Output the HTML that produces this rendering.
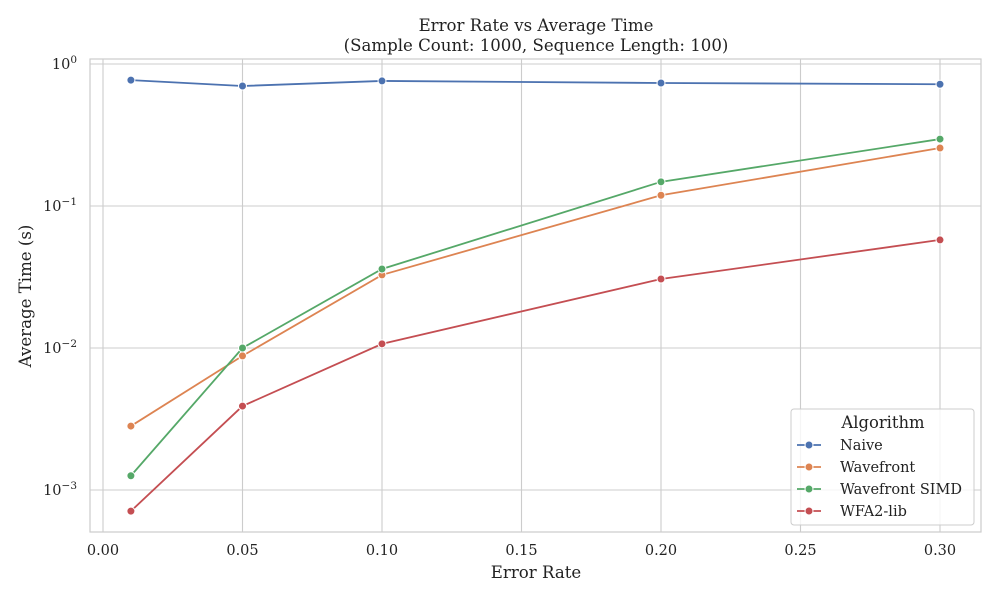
<!DOCTYPE html>
<html><head><meta charset="utf-8"><style>
body{margin:0;background:#fff;}
svg{font-family:"DejaVu Serif","Liberation Serif",serif;}
</style></head><body>
<svg id="chart" width="1000" height="600" xmlns="http://www.w3.org/2000/svg">
<rect width="1000" height="600" fill="#fff"/>
<g id="grid"></g>
<rect x="90" y="59" width="891" height="473" fill="none" stroke="#ccc" stroke-width="1.2"/>
<g id="marks"></g>
<g id="axes"></g>
<text x="536" y="31" font-size="16.6" text-anchor="middle" fill="#222">Error Rate vs Average Time</text>
<text x="536" y="51" font-size="16.6" text-anchor="middle" fill="#222">(Sample Count: 1000, Sequence Length: 100)</text>
<text x="536" y="578" font-size="16.6" text-anchor="middle" fill="#222">Error Rate</text>
<text x="31" y="296" font-size="16.6" text-anchor="middle" fill="#222" transform="rotate(-90 31 296)">Average Time (s)</text>
<g id="legend">
<rect x="791" y="409" width="183" height="116" rx="3" fill="#fff" fill-opacity="0.8" stroke="#ccc"/>
<text x="883" y="428" font-size="16.4" text-anchor="middle" fill="#222">Algorithm</text>
</g>
</svg>
<script>
const xValues=[0.01,0.05,0.10,0.20,0.30];
const seriesNames=["Naive","Wavefront","Wavefront SIMD","WFA2-lib"];
const colors=["#4c72b0","#dd8452","#55a868","#c44e52"];
const naive=[0.77,0.70,0.76,0.735,0.72];
const wavefront=[0.00282,0.0088,0.0327,0.119,0.256];
const wavefrontSimd=[0.00126,0.0100,0.036,0.148,0.296];
const wfa2lib=[0.00071,0.0039,0.0107,0.0306,0.0577];
const xTicks=[0,0.05,0.10,0.15,0.20,0.25,0.30];
const xTickLabels=["0.00","0.05","0.10","0.15","0.20","0.25","0.30"];
const yTickExp=[0,-1,-2,-3];
const series=[naive,wavefront,wavefrontSimd,wfa2lib];
const NS="http://www.w3.org/2000/svg";
function X(v){return 103+v*(940-103)/0.30;}
function Y(v){return 64-Math.log10(v)*142;}
function mk(t,a,p){const e=document.createElementNS(NS,t);for(const k in a)e.setAttribute(k,a[k]);p.appendChild(e);return e;}
const grid=document.getElementById('grid'),axes=document.getElementById('axes'),marks=document.getElementById('marks'),legend=document.getElementById('legend');
xTicks.forEach((t,i)=>{
 const l=mk('line',{x1:X(t),x2:X(t),y1:59,y2:532,stroke:'#ccc','stroke-width':1.1},grid);
 
 
 const tx=mk('text',{x:X(t),y:555,'font-size':14.5,'text-anchor':'middle',fill:'#222'},axes);
 tx.textContent=xTickLabels[i];
 
 
});
yTickExp.forEach(e=>{
 const y=Y(Math.pow(10,e));
 const l=mk('line',{x1:90,x2:981,y1:y,y2:y,stroke:'#ccc','stroke-width':1.1},grid);
 
 
 const tx=mk('text',{x:77,y:y+5,'font-size':14.5,'text-anchor':'end',fill:'#222'},axes);
 tx.innerHTML='10<tspan dy="-6" font-size="10.5">'+(e===0?'0':'\u2212'+(-e))+'</tspan>';
 
 
});
series.forEach((s,si)=>{
 const pts=s.map((v,i)=>X(xValues[i])+','+Y(v)).join(' ');
 const pl=mk('polyline',{points:pts,fill:'none',stroke:colors[si],'stroke-width':1.8},marks);
 
 
 s.forEach((v,i)=>{
  const c=mk('circle',{cx:X(xValues[i]),cy:Y(v),r:4,fill:colors[si],stroke:'#fff','stroke-width':1},marks);
  
  
 });
 const ly=445+si*22;
 mk('line',{x1:797,x2:821,y1:ly,y2:ly,stroke:colors[si],'stroke-width':1.8},legend);
 mk('circle',{cx:809,cy:ly,r:4,fill:colors[si],stroke:'#fff','stroke-width':1},legend);
 const t=mk('text',{x:840,y:ly+5,'font-size':14.5,fill:'#222'},legend);
 t.textContent=seriesNames[si];
 
 
});
</script>
</body></html>
